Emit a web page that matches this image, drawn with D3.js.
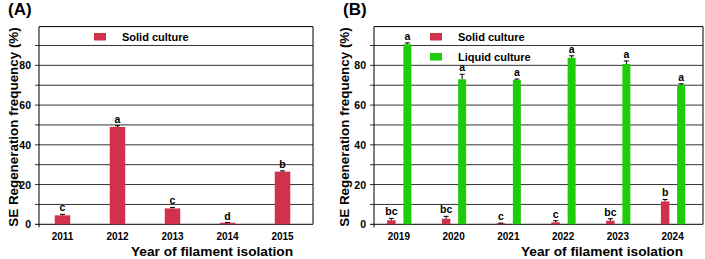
<!DOCTYPE html>
<html><head><meta charset="utf-8">
<script src="https://cdn.jsdelivr.net/npm/d3@7"></script>
<style>body{margin:0;background:#fff;} text{font-family:"Liberation Sans",Arial,sans-serif;font-weight:bold;}</style>
</head><body>
<svg id="c" width="705" height="259"></svg>
<script>
// Panel A data
const yearsA = ["2011","2012","2013","2014","2015"];
const solidA = [4.5, 49, 8.0, 0.8, 26.5];
const solidAErr = [0.5, 0.6, 0.5, 0.1, 0.4];
const lettersA = ["c","a","c","d","b"];
// Panel B data
const yearsB = ["2019","2020","2021","2022","2023","2024"];
const solidB = [2.0, 2.8, 0.5, 1.0, 1.8, 11.5];
const solidBErr = [1.0, 1.2, 0.1, 0.8, 1.0, 1.0];
const lettersSolidB = ["bc","bc","c","c","bc","b"];
const liquidB = [90.6, 73.0, 72.6, 83.8, 80.7, 70.2];
const liquidBErr = [0.7, 2.5, 0.5, 1.0, 1.5, 0.5];
const lettersLiquidB = ["a","a","a","a","a","a"];
const yTicks = [0,20,40,60,80];
const gridVals = [10,20,30,40,50,60,70,80,90];

const RED = "#d1314c", GREEN = "#1fcc0c";
const svg = d3.select("#c");

function panel(opts){
  const {x0, x1, label, labelX, titleX, yLabelX, bandRange} = opts;
  const y = d3.scaleLinear().domain([0,100]).range([224.3, 25.6]);
  const g = svg.append("g");
  // gridlines
  g.selectAll("line.grid").data(gridVals).join("line")
    .attr("x1", x0-4).attr("x2", x1).attr("y1", d=>y(d)).attr("y2", d=>y(d))
    .attr("stroke", "#333").attr("stroke-width", 1);
  // frame
  g.append("line").attr("x1",x0).attr("x2",x1).attr("y1",y(100)+1).attr("y2",y(100)+1).attr("stroke","#000");
  g.append("line").attr("x1",x1).attr("x2",x1).attr("y1",y(100)+1).attr("y2",y(0)).attr("stroke","#000");
  g.append("line").attr("x1",x0).attr("x2",x0).attr("y1",y(100)+1).attr("y2",y(0)+3).attr("stroke","#000");
  g.append("line").attr("x1",x0-4).attr("x2",x1).attr("y1",y(0)).attr("y2",y(0)).attr("stroke","#000");
  // y tick labels
  g.selectAll("text.yt").data(yTicks).join("text")
    .attr("x", x0-8).attr("y", d=>y(d)+4).attr("text-anchor","end")
    .attr("font-size","10.5px").text(d=>d);
  // y label
  g.append("text").attr("transform",`translate(${yLabelX},127) rotate(-90)`)
    .attr("text-anchor","middle").attr("font-size","13.4px").text("SE Regeneration frequency (%)");
  // x title
  g.append("text").attr("x", titleX).attr("y", 256).attr("font-size","13.7px").text("Year of filament isolation");
  // panel label
  g.append("text").attr("x", labelX).attr("y", 15).attr("font-size","17px").text(label);
  return {g, y};
}

function bars(g, x, y, years, vals, errs, letters, color, off, w){
  const data = years.map((k,i)=>({k, v: vals[i], e: errs[i], l: letters[i]}));
  const cx = d => x(d.k) + x.bandwidth()/2 + off;
  g.selectAll(null).data(data).join("rect")
    .attr("x", d=>cx(d)-w/2).attr("width", w)
    .attr("y", d=>y(d.v)).attr("height", d=>y(0)-y(d.v)).attr("fill", color);
  g.selectAll(null).data(data).join("line")
    .attr("x1", cx).attr("x2", cx).attr("y1", d=>y(d.v)).attr("y2", d=>y(d.v+d.e))
    .attr("stroke","#000").attr("stroke-width",1);
  g.selectAll(null).data(data).join("line")
    .attr("x1", d=>cx(d)-2.5).attr("x2", d=>cx(d)+2.5).attr("y1", d=>y(d.v+d.e)).attr("y2", d=>y(d.v+d.e))
    .attr("stroke","#000").attr("stroke-width",1);
  g.selectAll(null).data(data).join("text")
    .attr("x", cx).attr("y", d=>y(d.v+d.e)-3).attr("text-anchor","middle")
    .attr("font-size","10.5px").text(d=>d.l);
}

// Panel A
{
  const {g, y} = panel({x0:39, x1:313, label:"(A)", labelX:8, titleX:131, yLabelX:18});
  const x = d3.scaleBand().domain(yearsA).range([35, 310]);
  bars(g, x, y, yearsA, solidA, solidAErr, lettersA, RED, 0, 15.5);
  g.selectAll(null).data(yearsA).join("text")
    .attr("x", d=>x(d)+x.bandwidth()/2).attr("y", 240).attr("text-anchor","middle")
    .attr("font-size","10px").text(d=>d);
  // legend
  g.append("rect").attr("x",94).attr("y",33).attr("width",12).attr("height",7.5).attr("fill",RED);
  g.append("text").attr("x",122).attr("y",40.5).attr("font-size","11px").text("Solid culture");
}
// Panel B
{
  const {g, y} = panel({x0:374, x1:703, label:"(B)", labelX:343, titleX:521, yLabelX:349});
  const x = d3.scaleBand().domain(yearsB).range([371.5, 700]);
  bars(g, x, y, yearsB, solidB, solidBErr, lettersSolidB, RED, -7.5, 8.5);
  bars(g, x, y, yearsB, liquidB, liquidBErr, lettersLiquidB, GREEN, 8.5, 8);
  g.selectAll(null).data(yearsB).join("text")
    .attr("x", d=>x(d)+x.bandwidth()/2).attr("y", 240).attr("text-anchor","middle")
    .attr("font-size","10px").text(d=>d);
  g.append("rect").attr("x",430).attr("y",33).attr("width",12).attr("height",7.5).attr("fill",RED);
  g.append("text").attr("x",458).attr("y",40.5).attr("font-size","11px").text("Solid culture");
  g.append("rect").attr("x",430).attr("y",53).attr("width",12).attr("height",7.5).attr("fill",GREEN);
  g.append("text").attr("x",458).attr("y",60.5).attr("font-size","11px").text("Liquid culture");
}
</script>
</body></html>
